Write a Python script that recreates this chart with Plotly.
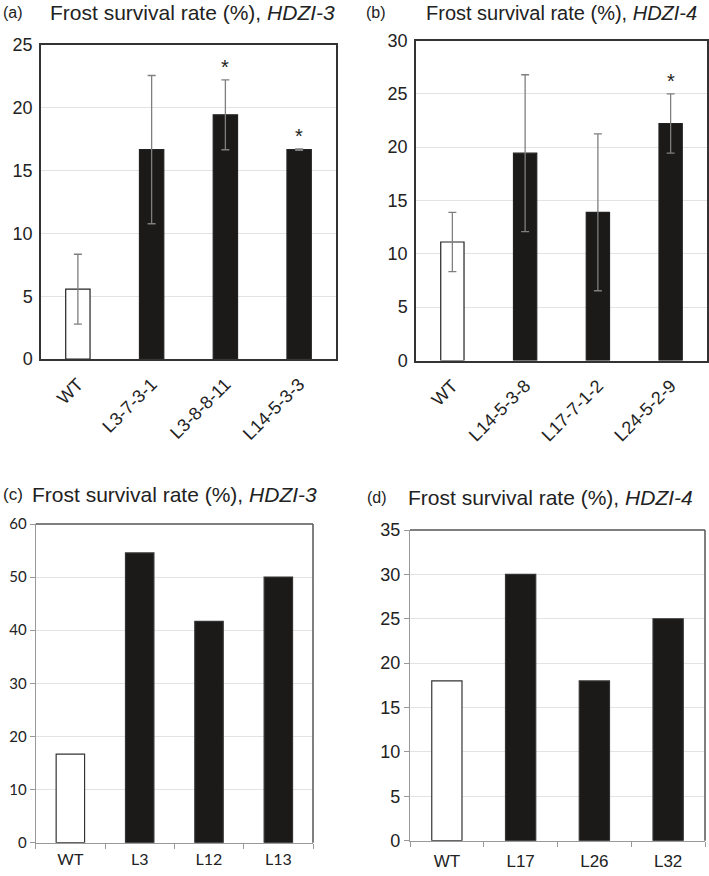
import plotly.graph_objects as go

W, H = 709, 876

# ---- data ----
cats_a = ["WT", "L3-7-3-1", "L3-8-8-11", "L14-5-3-3"]
vals_a = [5.56, 16.67, 19.44, 16.67]
err_a = [2.78, 5.9, 2.78, 0.05]
star_a = [False, False, True, True]

cats_b = ["WT", "L14-5-3-8", "L17-7-1-2", "L24-5-2-9"]
vals_b = [11.11, 19.44, 13.89, 22.22]
err_b = [2.78, 7.35, 7.35, 2.78]
star_b = [False, False, False, True]

cats_c = ["WT", "L3", "L12", "L13"]
vals_c = [16.67, 54.55, 41.67, 50.0]

cats_d = ["WT", "L17", "L26", "L32"]
vals_d = [18, 30, 18, 25]

title_text = "Frost survival rate (%), "
genes = ["HDZI-3", "HDZI-4", "HDZI-3", "HDZI-4"]

WHITE = "#ffffff"
BLACK = "#1b1a19"


def colors(cats):
    return [WHITE if c == "WT" else BLACK for c in cats]


def dom_x(a, b):
    return [a / W, b / W]


def dom_y(top, bottom):
    return [1 - bottom / H, 1 - top / H]


fig = go.Figure()

ARIAL = "Liberation Sans, Arial, sans-serif"
CALIB = "Lato, Carlito, sans-serif"

# Panel a
fig.add_trace(go.Bar(x=cats_a, y=vals_a, width=0.33, xaxis="x", yaxis="y",
                     marker=dict(color=colors(cats_a), line=dict(color="#222222", width=1.2)),
                     error_y=dict(type="data", array=err_a, visible=True, color="#7f7f7f",
                                  thickness=1.3, width=4),
                     showlegend=False))
# Panel b
fig.add_trace(go.Bar(x=cats_b, y=vals_b, width=0.32, xaxis="x2", yaxis="y2",
                     marker=dict(color=colors(cats_b), line=dict(color="#222222", width=1.2)),
                     error_y=dict(type="data", array=err_b, visible=True, color="#7f7f7f",
                                  thickness=1.3, width=4),
                     showlegend=False))
# Panel c
fig.add_trace(go.Bar(x=cats_c, y=vals_c, width=0.41, xaxis="x3", yaxis="y3",
                     marker=dict(color=colors(cats_c), line=dict(color="#333333", width=1.2)),
                     showlegend=False))
# Panel d
fig.add_trace(go.Bar(x=cats_d, y=vals_d, width=0.41, xaxis="x4", yaxis="y4",
                     marker=dict(color=colors(cats_d), line=dict(color="#333333", width=1.2)),
                     showlegend=False))

annotations = []
# stars
for cats, vals, errs, stars, xr, yr in [(cats_a, vals_a, err_a, star_a, "x", "y"),
                                         (cats_b, vals_b, err_b, star_b, "x2", "y2")]:
    for c, v, e, s in zip(cats, vals, errs, stars):
        if s:
            annotations.append(dict(x=c, y=v + e, xref=xr, yref=yr, text="*",
                                    showarrow=False, yanchor="bottom", yshift=0,
                                    font=dict(family=ARIAL, size=20, color="#222222")))

# titles
def add_title(label, lx, tx, y, gene, size, lsize):
    annotations.append(dict(x=lx / W, y=1 - y / H, xref="paper", yref="paper", text=label,
                            showarrow=False, xanchor="left", yanchor="middle",
                            font=dict(family=ARIAL, size=lsize, color="#222222")))
    annotations.append(dict(x=tx / W, y=1 - y / H, xref="paper", yref="paper",
                            text=title_text + "<i>" + gene + "</i>",
                            showarrow=False, xanchor="left", yanchor="middle",
                            font=dict(family=ARIAL, size=size, color="#222222")))

add_title("(a)", 1, 48, 13, genes[0], 21, 16)
add_title("(b)", 364, 424, 13, genes[1], 20, 16)
add_title("(c)", 1, 30, 494, genes[2], 21, 17)
add_title("(d)", 365, 406, 497, genes[3], 21, 16)

grid = "#e3e3e3"
box_ab = dict(showline=True, linecolor="#333333", linewidth=1.5, mirror=True, automargin=False)
NA = dict(automargin=False)

layout = dict(
    width=W, height=H, margin=dict(l=0, r=0, t=0, b=0, pad=0, autoexpand=False),
    paper_bgcolor="white", plot_bgcolor="white",
    annotations=annotations, bargap=0.2,
    xaxis=dict(domain=dom_x(41, 336), anchor="y", tickangle=-45, ticks="",
               ticklabelstandoff=6,
               tickfont=dict(family=ARIAL, size=18, color="#222222"), **box_ab),
    yaxis=dict(domain=dom_y(45, 359), anchor="x", range=[0, 25], dtick=5,
               showgrid=True, gridcolor=grid, gridwidth=1.3, ticks="", zeroline=False,
               ticklabelstandoff=3,
               tickfont=dict(family=ARIAL, size=18, color="#222222"), **box_ab),
    xaxis2=dict(domain=dom_x(416, 707), anchor="y2", tickangle=-45, ticks="",
                ticklabelstandoff=6,
                tickfont=dict(family=ARIAL, size=18, color="#222222"), **box_ab),
    yaxis2=dict(domain=dom_y(40.5, 360.5), anchor="x2", range=[0, 30], dtick=5,
                showgrid=True, gridcolor=grid, gridwidth=1.3, ticks="", zeroline=False,
                ticklabelstandoff=3,
                tickfont=dict(family=ARIAL, size=18, color="#222222"), **box_ab),
    xaxis3=dict(domain=dom_x(35.7, 313), anchor="y3", tickson="boundaries",
                ticks="outside", ticklen=5, tickcolor="#999999",
                showline=True, linecolor="#999999", linewidth=1.2, mirror=False,
                ticklabelstandoff=2,
                tickfont=dict(family=CALIB, size=16, color="#222222"), **NA),
    yaxis3=dict(domain=dom_y(524, 842.7), anchor="x3", range=[0, 60], dtick=10,
                showgrid=True, gridcolor=grid, gridwidth=1.3, zeroline=False,
                ticks="outside", ticklen=5, tickcolor="#999999",
                showline=True, linecolor="#999999", linewidth=1.2,
                tickfont=dict(family=CALIB, size=15, color="#222222"), **NA),
    xaxis4=dict(domain=dom_x(410, 705), anchor="y4", tickson="boundaries",
                ticks="outside", ticklen=5, tickcolor="#999999",
                showline=True, linecolor="#999999", linewidth=1.2,
                ticklabelstandoff=5,
                tickfont=dict(family=ARIAL, size=17, color="#222222"), **NA),
    yaxis4=dict(domain=dom_y(530, 840.7), anchor="x4", range=[0, 35], dtick=5,
                showgrid=True, gridcolor=grid, gridwidth=1.3, zeroline=False,
                ticks="outside", ticklen=5, tickcolor="#999999",
                showline=True, linecolor="#999999", linewidth=1.2,
                tickfont=dict(family=ARIAL, size=18, color="#222222"), **NA),
)

# top/right borders for c and d (darker gray)
shapes = []
for xd, yd in [(dom_x(35.7, 313), dom_y(524, 842.7)), (dom_x(410, 705), dom_y(530, 840.7))]:
    shapes.append(dict(type="line", xref="paper", yref="paper", x0=xd[0], x1=xd[1],
                       y0=yd[1], y1=yd[1], line=dict(color="#555555", width=1.5)))
    shapes.append(dict(type="line", xref="paper", yref="paper", x0=xd[1], x1=xd[1],
                       y0=yd[0], y1=yd[1], line=dict(color="#555555", width=1.5)))
layout["shapes"] = shapes

fig.update_layout(**layout)
fig.write_html("out.html", config={"responsive": False, "displayModeBar": False},
               post_script="document.body.style.margin='0';document.body.style.overflow='hidden';")
